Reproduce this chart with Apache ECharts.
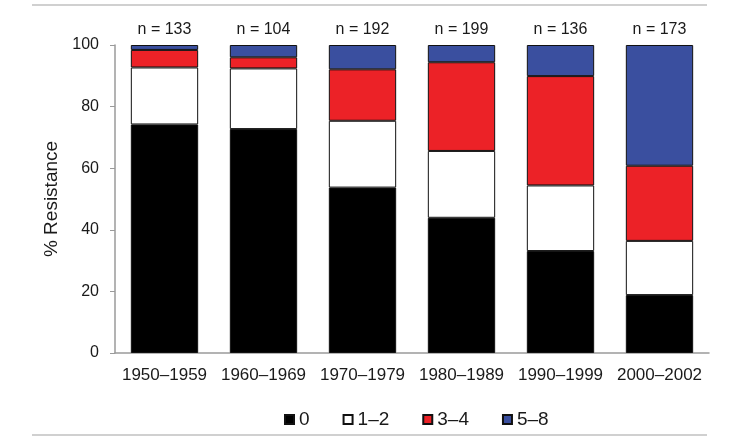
<!DOCTYPE html>
<html>
<head>
<meta charset="utf-8">
<script src="https://cdn.jsdelivr.net/npm/echarts@6/dist/echarts.min.js"></script>
<style>
  html, body { margin: 0; padding: 0; background: #fff; }
  #main { width: 736px; height: 446px; }
</style>
</head>
<body>
<div id="main"></div>
<script>
// decades on the x axis
var categories = ['1950–1959', '1960–1969', '1970–1979', '1980–1989', '1990–1999', '2000–2002'];
// sample sizes shown above each bar
var nCounts = [133, 104, 192, 199, 136, 173];
// % of isolates by number of resistances
var zero = [74.2, 72.7, 53.7, 43.9, 33.1, 18.8];
var oneTwo = [18.5, 19.7, 21.7, 21.7, 21.3, 17.6];
var threeFour = [5.7, 3.6, 16.7, 28.8, 35.5, 24.4];
var fiveEight = [1.6, 4.0, 7.9, 5.6, 10.1, 39.2];

var font = "'Liberation Sans', Arial, sans-serif";

var chart = echarts.init(document.getElementById('main'));

function barSeries(name, data, color) {
    return {
        name: name,
        type: 'bar',
        stack: 'total',
        barCategoryGap: '32%',
        data: data,
        itemStyle: {
            color: color,
            borderColor: '#111',
            borderWidth: 1
        }
    };
}

var series = [
    barSeries('0', zero, '#000000'),
    barSeries('1–2', oneTwo, '#ffffff'),
    barSeries('3–4', threeFour, '#ec2227'),
    barSeries('5–8', fiveEight, '#3a4f9f')
];
// n = ... labels on the top segment
series[3].label = {
    show: true,
    position: 'top',
    distance: 7,
    fontFamily: font,
    fontSize: 16,
    color: '#1a1a1a',
    formatter: function (p) { return 'n = ' + nCounts[p.dataIndex]; }
};

var option = {
    animation: false,
    textStyle: { fontFamily: font },
    grid: { left: 115, right: 27, top: 45, bottom: 93 },
    legend: {
        top: 405,
        left: 279,
        itemWidth: 9,
        itemHeight: 9,
        itemGap: 33,
        icon: 'rect',
        textStyle: { fontFamily: font, fontSize: 19, color: '#1a1a1a' },
        data: ['0', '1–2', '3–4', '5–8']
    },
    xAxis: {
        type: 'category',
        data: categories,
        axisTick: { show: false },
        axisLine: { lineStyle: { color: '#9a9a9a', width: 1.5 } },
        axisLabel: { fontFamily: font, fontSize: 17, color: '#1a1a1a', margin: 14, interval: 0 }
    },
    yAxis: {
        type: 'value',
        min: 0,
        max: 100,
        interval: 20,
        name: '% Resistance',
        nameLocation: 'middle',
        nameGap: 48,
        nameTextStyle: { fontFamily: font, fontSize: 19, color: '#1a1a1a' },
        splitLine: { show: false },
        axisLine: { show: true, lineStyle: { color: '#9a9a9a', width: 1.5 } },
        axisTick: { show: true, length: 5, lineStyle: { color: '#9a9a9a' } },
        axisLabel: { fontFamily: font, fontSize: 16, color: '#1a1a1a', margin: 16 }
    },
    graphic: [
        { type: 'line', shape: { x1: 32, y1: 5, x2: 707, y2: 5 }, style: { stroke: '#d0d0d0', lineWidth: 2 } },
        { type: 'line', shape: { x1: 32, y1: 435, x2: 707, y2: 435 }, style: { stroke: '#d0d0d0', lineWidth: 2 } }
    ],
    series: series
};

chart.setOption(option);
</script>
</body>
</html>
